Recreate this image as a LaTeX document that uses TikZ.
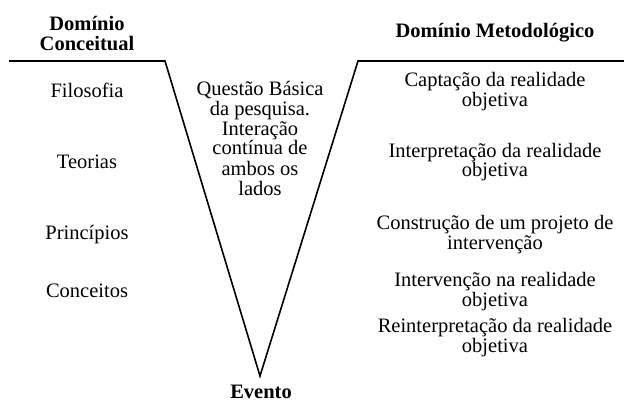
\documentclass[tikz,border=0pt]{standalone}
\usepackage{fontspec}
\setmainfont{Liberation Serif}
\begin{document}
\begin{tikzpicture}[x=1pt,y=-1pt,
  lbl/.style={inner sep=0pt,anchor=base,align=center,font=\fontsize{20.5}{20}\selectfont},
  hdr/.style={lbl,font=\fontsize{20.5}{20}\selectfont\bfseries},
  vline/.style={line width=1.6pt,line join=miter}]
\useasboundingbox (0,0) rectangle (624,401);
\coordinate (L) at (9,61);
\coordinate (A) at (165,61);
\coordinate (B) at (260,376);
\coordinate (C) at (358,61);
\coordinate (R) at (624,61);
\draw[vline] (L) -- (A) -- (B) -- (C) -- (R);
% multi-line nodes: base anchor = baseline of last line
\node[hdr] (dc) at (87,51) {Domínio\\Conceitual};
\node[hdr] (dm) at (495,38) {Domínio Metodológico};
\node[hdr] (ev) at (261,398) {Evento};
\node[lbl] (f) at (87,98) {Filosofia};
\node[lbl] (t) at (87,168) {Teorias};
\node[lbl] (p) at (87,239) {Princípios};
\node[lbl] (c) at (87,297) {Conceitos};
\node[lbl] (q) at (260,195) {Questão Básica\\da pesquisa.\\Interação\\contínua de\\ambos os\\lados};
\node[lbl] (r1) at (495,107) {Captação da realidade\\objetiva};
\node[lbl] (r2) at (495,177) {Interpretação da realidade\\objetiva};
\node[lbl] (r3) at (495,249) {Construção de um projeto de\\intervenção};
\node[lbl] (r4) at (495,306) {Intervenção na realidade\\objetiva};
\node[lbl] (r5) at (495,352) {Reinterpretação da realidade\\objetiva};
\end{tikzpicture}
\end{document}
